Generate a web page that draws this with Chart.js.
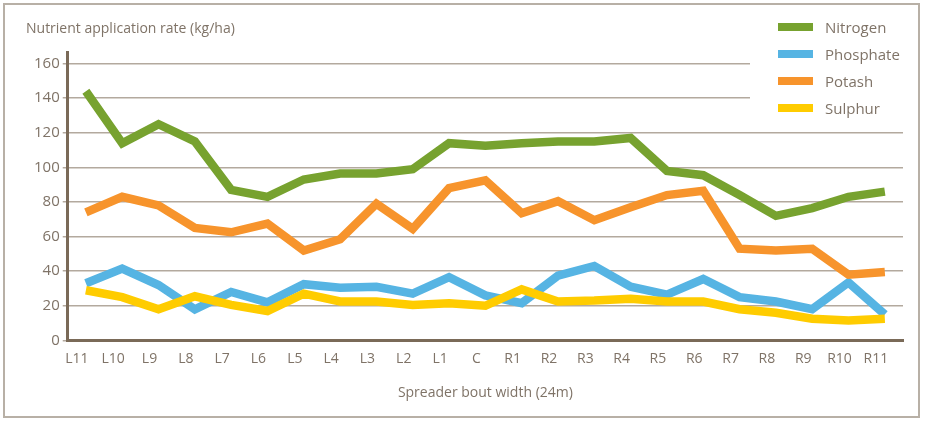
<!DOCTYPE html>
<html>
<head>
<meta charset="utf-8">
<script src="https://cdn.jsdelivr.net/npm/chart.js@4"></script>
<style>
    body { margin: 0; background: #fff; font-family: 'Open Sans', sans-serif; }
    #wrap { position: relative; width: 925px; height: 423px; }
    #frame { position: absolute; left: 3px; top: 3px; width: 917px; height: 415px; border: 2px solid #b8b0a6; box-sizing: border-box; pointer-events: none; }
    #ytitle { position: absolute; left: 26px; top: 18px; font-size: 14px; color: #7f7367; }
    #legend { position: absolute; left: 750px; top: 12px; width: 160px; height: 108px; background: #fff; }
    .item { position: absolute; left: 28px; font-size: 15px; color: #7f7367; line-height: 18px; }
    .item span { position: absolute; left: 0; top: 5px; width: 35px; height: 8px; }
    .item b { font-weight: normal; position: absolute; left: 47px; white-space: nowrap; }
</style>
</head>
<body>
<div id="wrap">
    <canvas id="chart" width="925" height="423"></canvas>
    <div id="frame"></div>
    <div id="ytitle">Nutrient application rate (kg/ha)</div>
    <div id="legend"></div>
</div>
<script>
const categories = ['L11', 'L10', 'L9', 'L8', 'L7', 'L6', 'L5', 'L4', 'L3', 'L2', 'L1', 'C',
    'R1', 'R2', 'R3', 'R4', 'R5', 'R6', 'R7', 'R8', 'R9', 'R10', 'R11'];
const nitrogen  = [144, 114, 125, 115, 87, 83, 93, 96.5, 96.5, 99, 114, 112.5, 114, 115, 115, 117, 98, 95.5, 84, 72, 76.5, 83, 86];
const phosphate = [33, 41.5, 32, 18, 28, 22, 32.5, 30.5, 31, 27, 36.5, 26, 21.5, 37.5, 43, 31, 26.5, 35.5, 25, 22.5, 18, 33.5, 15];
const potash    = [74, 83, 78, 65, 62.5, 67.5, 52, 58.5, 79, 64.5, 88, 92.5, 73.5, 80.5, 69.5, 77, 84, 86.5, 53, 52, 53, 38, 39.5];
const sulphur   = [29, 25, 18, 25.5, 20.5, 17, 27, 22.5, 22.5, 20.5, 21.5, 20, 29.5, 22.5, 23, 24, 22.5, 22.5, 18, 16, 12.5, 11.5, 12.5];
const yTicks = [0, 20, 40, 60, 80, 100, 120, 140, 160];

const textColor = '#7f7367';
const series = [
    { label: 'Nitrogen', data: nitrogen, color: '#77a22f', order: 1 },
    { label: 'Phosphate', data: phosphate, color: '#56b4e3', order: 2 },
    { label: 'Potash', data: potash, color: '#f7942c', order: 1 },
    { label: 'Sulphur', data: sulphur, color: '#ffcc00', order: 0 }
];

// html legend, white box also hides the top grid lines behind it
const legend = document.getElementById('legend');
series.forEach((s, i) => {
    const div = document.createElement('div');
    div.className = 'item';
    div.style.top = (6 + i * 27) + 'px';
    div.innerHTML = `<span style="background:${s.color}"></span><b>${s.label}</b>`;
    legend.appendChild(div);
});

new Chart(document.getElementById('chart'), {
    type: 'line',
    data: {
        labels: categories,
        datasets: series.map(s => ({
            label: s.label,
            data: s.data,
            borderColor: s.color,
            backgroundColor: s.color,
            borderWidth: 8.5,
            pointRadius: 0,
            tension: 0,
            order: s.order,
            borderJoinStyle: 'miter'
        }))
    },
    options: {
        responsive: false,
        animation: false,
        layout: { padding: { left: 31, right: 22, top: 52, bottom: 18 } },
        plugins: { legend: { display: false }, tooltip: { enabled: false } },
        scales: {
            x: {
                offset: true,
                grid: { display: false, drawTicks: false },
                border: { color: '#7a6a58', width: 3 },
                ticks: { color: textColor, font: { family: 'Open Sans', size: 14 }, padding: 10, labelOffset: -9, maxRotation: 0, autoSkip: false },
                title: { display: true, text: 'Spreader bout width (24m)', color: textColor, font: { family: 'Open Sans', size: 14 }, padding: { top: 7 } }
            },
            y: {
                min: 0,
                max: 166.7,
                afterBuildTicks: scale => { scale.ticks = yTicks.map(v => ({ value: v })); },
                grid: { color: '#b3a99e', lineWidth: 1.5, tickLength: 5 },
                border: { color: '#7a6a58', width: 3 },
                ticks: { color: textColor, font: { family: 'Open Sans', size: 15 }, padding: 3 }
            }
        }
    }
});
</script>
</body>
</html>
